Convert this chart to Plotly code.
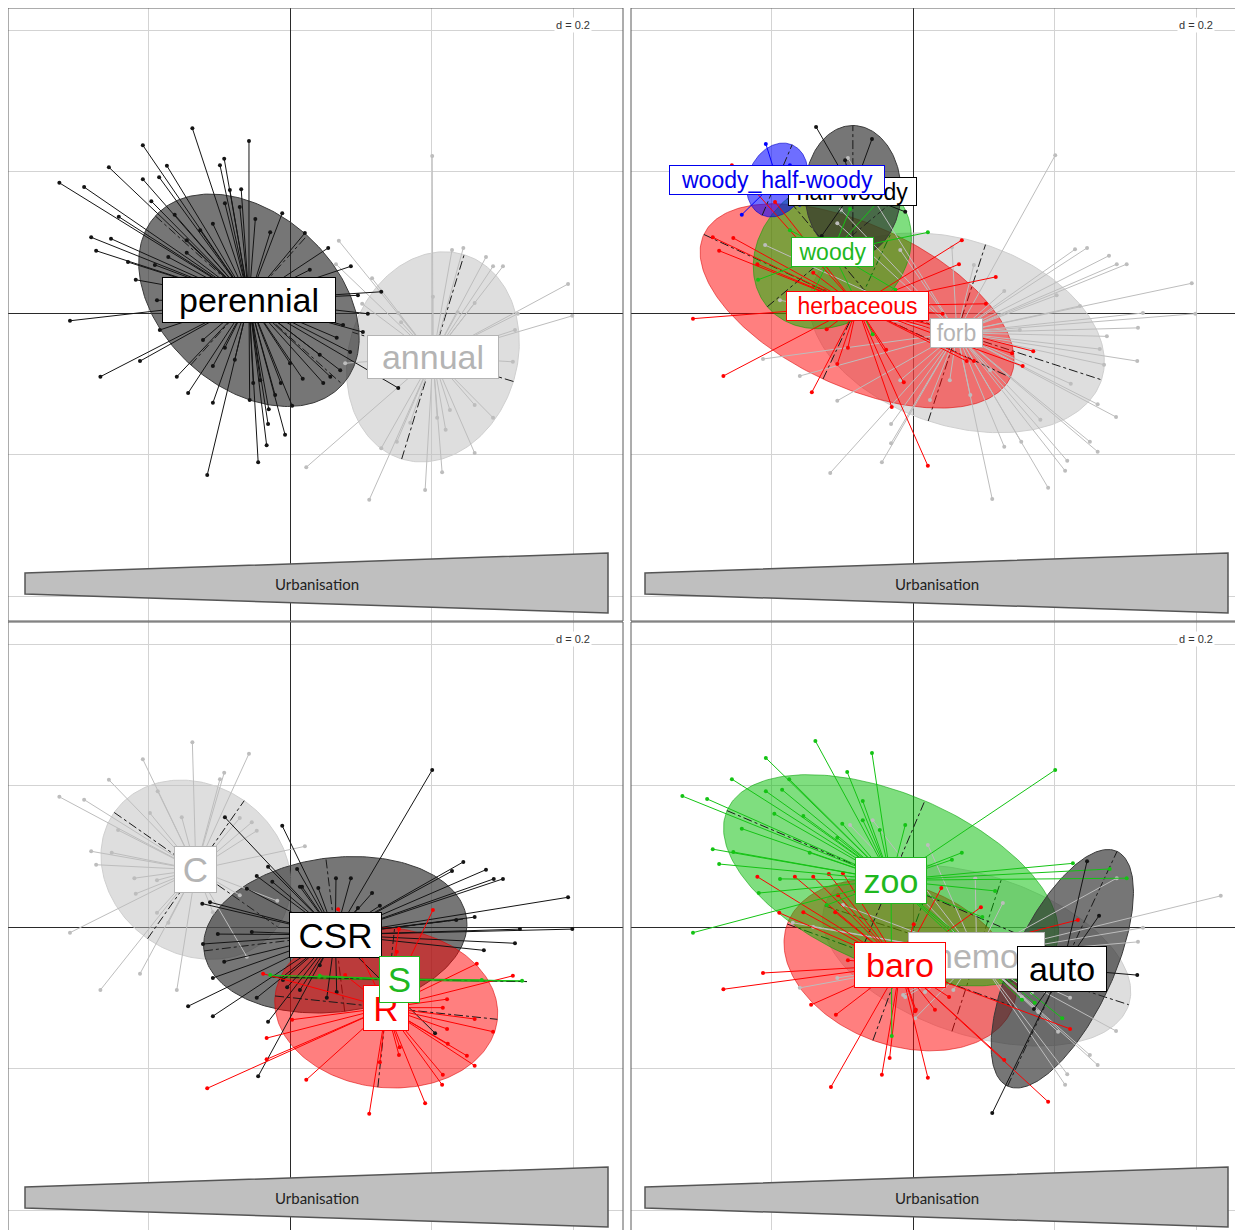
import numpy as np
import plotly.graph_objects as go

# ============================ DATA ============================
# ade4 s.class style coordinates (grid spacing d = 0.2)

# ---- Panel 1 : life span ----
p1_classes = ["annual", "perennial"]
p1_center_x = [0.202, -0.058]
p1_center_y = [-0.062, 0.018]
p1_ell_a = [0.151, 0.178]
p1_ell_b = [0.119, 0.123]
p1_ell_angle = [73, -42]

annual_pts = [(0.201, 0.222), (0.069, 0.102), (0.065, 0.069), (0.116, 0.049), (0.245, 0.092),
              (0.277, 0.079), (0.287, 0.066), (0.301, 0.066), (0.393, 0.041), (0.399, -0.004),
              (0.318, -0.024), (0.315, -0.069), (0.261, -0.130), (0.287, -0.148), (0.261, -0.198),
              (0.215, -0.225), (0.191, -0.250), (0.112, -0.264), (0.023, -0.218), (0.129, -0.191),
              (0.151, -0.182), (0.220, -0.165), (0.208, -0.148), (0.102, 0.013), (0.153, 0.000),
              (0.157, -0.013), (0.202, 0.023), (0.229, 0.089), (0.261, 0.014), (0.322, -0.001),
              (0.078, -0.071), (0.170, -0.155), (0.237, 0.001), (0.226, -0.137)]

perennial_pts = [(-0.138, 0.261), (-0.058, 0.243), (-0.208, 0.237), (-0.256, 0.206), (-0.174, 0.208),
                 (-0.099, 0.209), (-0.093, 0.218), (-0.326, 0.184), (-0.291, 0.178), (-0.208, 0.189),
                 (-0.185, 0.192), (-0.069, 0.175), (-0.196, 0.158), (-0.242, 0.136), (-0.011, 0.141),
                 (0.021, 0.113), (-0.281, 0.107), (-0.253, 0.105), (-0.274, 0.088), (-0.146, 0.103),
                 (-0.109, 0.126), (-0.218, 0.047), (-0.311, -0.011), (-0.212, -0.068), (-0.268, -0.090),
                 (-0.160, -0.090), (-0.144, -0.113), (-0.109, -0.127), (-0.117, -0.229), (-0.045, -0.211),
                 (-0.033, -0.187), (-0.031, -0.157), (-0.030, -0.136), (0.003, -0.131), (-0.092, -0.049),
                 (-0.109, -0.075), (-0.123, -0.038), (-0.052, -0.099), (-0.013, -0.099), (0.018, -0.093),
                 (0.000, -0.071), (-0.146, 0.085), (-0.188, 0.018), (-0.049, 0.133), (-0.071, 0.150),
                 (-0.172, 0.079), (-0.092, 0.155), (0.054, 0.092), (0.086, 0.066), (0.129, 0.030),
                 (0.096, 0.025), (0.110, -0.001), (0.103, -0.027), (0.153, -0.106), (0.071, -0.081),
                 (0.057, -0.090), (0.047, -0.099), (0.066, -0.035), (0.075, -0.017), (0.042, -0.059),
                 (0.085, -0.055), (-0.021, -0.116), (-0.042, -0.095), (-0.078, -0.066), (-0.127, 0.117),
                 (-0.085, 0.174), (-0.163, 0.139), (-0.028, 0.114), (-0.229, 0.072), (-0.191, 0.068),
                 (-0.184, -0.024), (-0.057, -0.123), (-0.007, -0.172), (0.028, 0.061), (0.057, 0.018)]

# ---- Panel 2 : growth form ----
p2_classes = ["forb", "herbaceous", "woody", "half-woody", "woody_half-woody"]
p2_center_x = [0.062, -0.079, -0.114, -0.085, -0.192]
p2_center_y = [-0.028, 0.010, 0.086, 0.172, 0.188]
p2_ell_a = [0.215, 0.239, 0.120, 0.093, 0.054]
p2_ell_b = [0.131, 0.114, 0.099, 0.068, 0.041]
p2_ell_angle = [-18, -25, 40, 90, 67]

forb_pts = [(0.201, 0.223), (0.229, 0.090), (0.246, 0.092), (0.277, 0.081), (0.288, 0.069),
            (0.302, 0.069), (0.394, 0.042), (0.399, -0.001), (0.325, 0.000), (0.318, -0.021),
            (0.274, -0.033), (0.264, -0.051), (0.317, -0.068), (0.270, -0.073), (0.287, -0.147),
            (0.261, -0.129), (0.261, -0.196), (0.250, -0.182), (0.218, -0.209), (0.215, -0.223),
            (0.191, -0.247), (0.153, -0.182), (0.129, -0.189), (0.112, -0.263), (0.223, -0.100),
            (0.236, 0.010), (0.203, 0.025), (0.129, 0.031), (0.086, 0.068), (0.055, 0.093),
            (-0.212, -0.065), (-0.160, -0.089), (-0.107, -0.124), (-0.117, -0.226), (-0.044, -0.211),
            (-0.031, -0.184), (-0.031, -0.157), (-0.209, 0.096), (-0.188, 0.018), (-0.102, 0.146),
            (-0.092, 0.219), (-0.107, 0.127), (0.024, -0.123), (0.081, -0.116), (0.180, -0.151),
            (0.109, -0.081), (-0.018, -0.095), (0.151, -0.024), (0.052, -0.095), (-0.047, 0.018),
            (-0.018, 0.089)]

herbaceous_pts = [(-0.256, 0.209), (-0.283, 0.107), (-0.254, 0.106), (-0.274, 0.088), (-0.220, 0.069),
                  (-0.311, -0.008), (-0.268, -0.089), (-0.143, -0.112), (-0.107, -0.072), (-0.092, -0.049),
                  (-0.122, -0.023), (-0.141, 0.057), (-0.195, 0.157), (-0.038, -0.052), (-0.013, -0.098),
                  (-0.030, -0.133), (0.021, -0.216), (0.069, 0.103), (0.065, 0.069), (0.117, 0.051),
                  (0.103, 0.013), (0.170, -0.054), (0.155, -0.075), (0.076, -0.068), (0.086, -0.068),
                  (0.140, -0.057), (0.042, -0.001)]

woody_pts = [(0.021, 0.114), (-0.219, 0.047), (-0.057, -0.030), (-0.089, 0.147), (-0.174, 0.117),
             (-0.025, 0.033), (-0.146, 0.018), (-0.047, 0.160)]

halfwoody_pts = [(-0.137, 0.263), (-0.058, 0.246), (-0.011, 0.143), (-0.129, 0.109), (-0.096, 0.216)]

woody_halfwoody_pts = [(-0.208, 0.239), (-0.242, 0.139), (-0.174, 0.209), (-0.160, 0.153)]

# ---- Panel 3 : CSR strategy ----
p3_classes = ["C", "CSR", "R", "S"]
p3_center_x = [-0.133, 0.064, 0.136, 0.155]
p3_center_y = [0.081, -0.011, -0.114, -0.074]
p3_ell_a = [0.141, 0.187, 0.158, 0.180]
p3_ell_b = [0.119, 0.109, 0.113, 0.0015]
p3_ell_angle = [-35, 7, -6, -1]

c_pts = [(-0.138, 0.261), (-0.208, 0.237), (-0.058, 0.245), (-0.093, 0.218), (-0.099, 0.209),
         (-0.256, 0.208), (-0.326, 0.184), (-0.291, 0.180), (-0.281, 0.107), (-0.274, 0.088),
         (-0.311, -0.008), (-0.268, -0.089), (-0.212, -0.066), (-0.160, -0.089), (0.021, 0.114),
         (-0.047, 0.136), (-0.054, 0.148), (-0.071, 0.154), (-0.153, 0.155), (-0.187, 0.192),
         (-0.243, 0.137), (-0.220, 0.069), (-0.218, 0.047), (-0.188, 0.066), (-0.188, 0.020),
         (-0.172, 0.006), (-0.018, 0.037), (-0.061, -0.042), (-0.109, 0.021), (-0.071, 0.045),
         (-0.198, 0.161), (-0.252, 0.105)]

csr_pts = [(-0.092, 0.155), (-0.011, 0.143), (-0.031, 0.085), (-0.047, 0.072), (-0.061, 0.054),
           (-0.025, 0.064), (-0.124, 0.033), (-0.113, 0.035), (-0.102, -0.010), (-0.123, -0.024),
           (-0.093, -0.049), (-0.109, -0.072), (-0.144, -0.112), (-0.109, -0.126), (-0.047, -0.100),
           (-0.031, -0.134), (-0.054, -0.007), (0.010, 0.082), (0.014, 0.057), (0.201, 0.222),
           (0.245, 0.092), (0.229, 0.079), (0.277, 0.081), (0.288, 0.068), (0.301, 0.068),
           (0.393, 0.042), (0.399, -0.003), (0.325, -0.003), (0.318, -0.023), (0.274, -0.033),
           (0.261, 0.014), (0.235, 0.010), (0.127, 0.030), (0.116, 0.048), (0.096, 0.027),
           (0.086, 0.069), (0.065, 0.069), (0.040, 0.055), (0.017, 0.057), (0.205, -0.150),
           (-0.045, -0.211), (-0.004, -0.085), (0.014, -0.089), (0.052, -0.100), (0.066, -0.092),
           (-0.010, -0.075), (0.042, -0.054)]

r_pts = [(0.202, 0.024), (0.154, -0.003), (0.151, -0.035), (0.264, -0.052), (0.315, -0.069),
         (0.222, -0.102), (0.216, -0.114), (0.261, -0.130), (0.222, -0.144), (0.287, -0.148),
         (0.223, -0.165), (0.250, -0.182), (0.261, -0.196), (0.216, -0.209), (0.215, -0.223),
         (0.154, -0.181), (0.155, -0.170), (0.127, -0.191), (0.023, -0.216), (0.068, 0.025),
         (-0.117, -0.228), (-0.033, -0.157), (-0.033, -0.187), (0.003, -0.131), (0.112, -0.264),
         (0.191, -0.249), (-0.038, -0.066), (0.078, -0.068)]

s_pts = [(-0.028, -0.068), (0.042, -0.069), (0.271, -0.075), (0.328, -0.076)]

# ---- Panel 4 : dispersal mode ----
p4_classes = ["hemo", "baro", "zoo", "auto"]
p4_center_x = [0.090, -0.018, -0.031, 0.211]
p4_center_y = [-0.040, -0.054, 0.066, -0.059]
p4_ell_a = [0.226, 0.170, 0.252, 0.183]
p4_ell_b = [0.113, 0.113, 0.122, 0.071]
p4_ell_angle = [-18, -20, -23, 65]

hemo_pts = [(0.288, 0.069), (0.435, 0.044), (0.325, -0.001), (0.318, -0.021), (0.287, -0.147),
            (0.261, -0.195), (0.250, -0.181), (0.218, -0.208), (0.215, -0.223), (0.222, -0.100),
            (0.205, -0.148), (0.177, -0.120), (0.154, -0.099), (0.168, -0.093), (0.021, 0.116),
            (0.088, 0.069), (0.127, 0.034), (0.003, -0.129), (-0.011, -0.099), (0.017, -0.092),
            (0.057, -0.089), (-0.160, -0.086), (-0.107, -0.072), (-0.170, 0.006), (-0.141, 0.000),
            (-0.014, -0.096), (-0.057, 0.151), (-0.089, 0.144), (-0.099, 0.031)]

baro_pts = [(-0.220, 0.071), (-0.167, 0.071), (-0.141, 0.071), (-0.119, 0.075), (-0.099, 0.076),
            (-0.106, 0.045), (-0.189, 0.020), (-0.155, 0.021), (-0.110, 0.021), (-0.212, -0.065),
            (-0.268, -0.088), (-0.144, -0.110), (-0.109, -0.124), (-0.116, -0.226), (-0.044, -0.209),
            (-0.033, -0.185), (-0.092, -0.047), (0.021, -0.213), (0.004, -0.117), (0.040, 0.055),
            (0.096, 0.028), (0.001, 0.004), (0.233, 0.010), (0.191, -0.247), (0.129, -0.188),
            (0.222, -0.144), (0.003, -0.119), (0.051, -0.099), (0.031, -0.117)]

zoo_pts = [(-0.138, 0.263), (-0.058, 0.246), (-0.208, 0.239), (-0.256, 0.209), (-0.093, 0.219),
           (-0.326, 0.185), (-0.291, 0.181), (-0.208, 0.192), (-0.185, 0.194), (-0.175, 0.209),
           (-0.242, 0.139), (-0.196, 0.160), (-0.155, 0.157), (-0.283, 0.110), (-0.254, 0.106),
           (-0.274, 0.089), (-0.218, 0.048), (-0.311, -0.008), (-0.107, 0.126), (-0.100, 0.146),
           (-0.071, 0.151), (-0.071, 0.178), (-0.047, 0.137), (-0.011, 0.144), (-0.146, 0.105),
           (-0.188, 0.068), (-0.122, 0.031), (-0.030, -0.154), (0.069, 0.105), (0.055, 0.095),
           (0.278, 0.082), (0.302, 0.069), (0.116, 0.051), (0.172, -0.107), (0.211, -0.129),
           (0.154, -0.103), (0.201, 0.222), (0.226, 0.090), (0.098, 0.014)]

auto_pts = [(0.246, 0.093), (0.263, 0.016), (0.317, -0.068), (0.171, -0.116), (0.112, -0.263),
            (0.165, -0.047)]

# ============================ STYLE ============================
STY = {
    "black": dict(line="#141414", fill="rgba(40,40,40,0.64)", edge="#3a3a3a", text="#000000"),
    "gray": dict(line="#bdbdbd", fill="rgba(190,190,190,0.5)", edge="#cfcfcf", text="#b4b4b4"),
    "red": dict(line="#ff0000", fill="rgba(255,0,0,0.5)", edge="rgba(220,0,0,0.55)", text="#ff0000"),
    "green": dict(line="#14c314", fill="rgba(0,190,0,0.5)", edge="rgba(0,160,0,0.55)", text="#1fb81f"),
    "blue": dict(line="#0000ff", fill="rgba(0,0,255,0.57)", edge="rgba(0,0,200,0.6)", text="#0000ee"),
}

OFF = 8                      # page body margin added by the browser
W, H = 1243 - OFF, 1230 - OFF
PX_PER_UNIT = 707.5
PANEL_W, PANEL_H = 615, 613
# (left, top, origin_x, origin_y) in figure pixels
PANELS = [(8 - OFF, 8 - OFF, 290 - OFF, 313 - OFF),
          (631 - OFF, 8 - OFF, 913 - OFF, 313 - OFF),
          (8 - OFF, 622 - OFF, 290 - OFF, 927 - OFF),
          (631 - OFF, 622 - OFF, 913 - OFF, 927 - OFF)]

panel_defs = [
    dict(classes=p1_classes, cx=p1_center_x, cy=p1_center_y, a=p1_ell_a, b=p1_ell_b, ang=p1_ell_angle,
         pts=[annual_pts, perennial_pts], colors=["gray", "black"],
         draw=[0, 1], label_order=[0, 1], fsize=34,
         boxes=[(130, 42), (172, 44)]),
    dict(classes=p2_classes, cx=p2_center_x, cy=p2_center_y, a=p2_ell_a, b=p2_ell_b, ang=p2_ell_angle,
         pts=[forb_pts, herbaceous_pts, woody_pts, halfwoody_pts, woody_halfwoody_pts],
         colors=["gray", "red", "green", "black", "blue"],
         draw=[0, 1, 2, 3, 4], label_order=[0, 1, 2, 3, 4], fsize=23,
         boxes=[(51, 28), (141, 28), (81, 28), (127, 27), (214, 28)]),
    dict(classes=p3_classes, cx=p3_center_x, cy=p3_center_y, a=p3_ell_a, b=p3_ell_b, ang=p3_ell_angle,
         pts=[c_pts, csr_pts, r_pts, s_pts], colors=["gray", "black", "red", "green"],
         draw=[0, 1, 2, 3], label_order=[0, 1, 2, 3], fsize=35,
         boxes=[(41, 45), (91, 44), (44, 44), (39, 45)]),
    dict(classes=p4_classes, cx=p4_center_x, cy=p4_center_y, a=p4_ell_a, b=p4_ell_b, ang=p4_ell_angle,
         pts=[hemo_pts, baro_pts, zoo_pts, auto_pts], colors=["gray", "red", "green", "black"],
         draw=[0, 1, 2, 3], label_order=[0, 2, 1, 3], fsize=34,
         boxes=[(135, 45), (90, 44), (70, 45), (88, 44)]),
]

fig = go.Figure()
annotations = []
shapes = []
t = np.linspace(0, 2 * np.pi, 240)

for k, (pdef, (L, T, ox, oy)) in enumerate(zip(panel_defs, PANELS), start=1):
    R = min(L + PANEL_W, W)
    B = min(T + PANEL_H, H)
    xname = "x" if k == 1 else f"x{k}"
    yname = "y" if k == 1 else f"y{k}"
    axis_common = dict(showgrid=True, gridcolor="#d3d3d3", gridwidth=1, zeroline=True,
                       zerolinecolor="#2a2a2a", zerolinewidth=1, showticklabels=False, ticks="",
                       tick0=0, dtick=0.2, showline=False, fixedrange=True)
    fig.update_layout(**{
        ("xaxis" if k == 1 else f"xaxis{k}"): dict(
            domain=[L / W, R / W], range=[(L - ox) / PX_PER_UNIT, (R - ox) / PX_PER_UNIT],
            anchor=yname, **axis_common),
        ("yaxis" if k == 1 else f"yaxis{k}"): dict(
            domain=[1 - B / H, 1 - T / H], range=[(oy - B) / PX_PER_UNIT, (oy - T) / PX_PER_UNIT],
            anchor=xname, **axis_common),
    })

    # ellipses + their axes
    for i in pdef["draw"]:
        st = STY[pdef["colors"][i]]
        cx, cy, a, b = pdef["cx"][i], pdef["cy"][i], pdef["a"][i], pdef["b"][i]
        th = np.deg2rad(pdef["ang"][i])
        ex, ey = a * np.cos(t), b * np.sin(t)
        X = cx + ex * np.cos(th) - ey * np.sin(th)
        Y = cy + ex * np.sin(th) + ey * np.cos(th)
        fig.add_trace(go.Scatter(x=X, y=Y, mode="lines", fill="toself", fillcolor=st["fill"],
                                 line=dict(color=st["edge"], width=1), xaxis=xname, yaxis=yname,
                                 hoverinfo="skip", showlegend=False))
        ax_x = [cx - a * np.cos(th), cx + a * np.cos(th), None, cx + b * np.sin(th), cx - b * np.sin(th)]
        ax_y = [cy - a * np.sin(th), cy + a * np.sin(th), None, cy - b * np.cos(th), cy + b * np.cos(th)]
        fig.add_trace(go.Scatter(x=ax_x, y=ax_y, mode="lines",
                                 line=dict(color="#1a1a1a", width=1, dash="dashdot"),
                                 xaxis=xname, yaxis=yname, hoverinfo="skip", showlegend=False))

    # stars
    for i in pdef["draw"]:
        st = STY[pdef["colors"][i]]
        cx, cy = pdef["cx"][i], pdef["cy"][i]
        sx, sy = [], []
        for (px, py) in pdef["pts"][i]:
            sx += [cx, px, None]
            sy += [cy, py, None]
        fig.add_trace(go.Scatter(x=sx, y=sy, mode="lines", line=dict(color=st["line"], width=1),
                                 xaxis=xname, yaxis=yname, hoverinfo="skip", showlegend=False))
        fig.add_trace(go.Scatter(x=[p[0] for p in pdef["pts"][i]], y=[p[1] for p in pdef["pts"][i]],
                                 mode="markers", marker=dict(color=st["line"], size=4),
                                 xaxis=xname, yaxis=yname, hoverinfo="skip", showlegend=False))

    # labels
    for i in pdef["label_order"]:
        st = STY[pdef["colors"][i]]
        bw, bh = pdef["boxes"][i]
        annotations.append(dict(x=pdef["cx"][i], y=pdef["cy"][i], xref=xname, yref=yname,
                                text=pdef["classes"][i], showarrow=False,
                                xanchor="center", yanchor="middle",
                                font=dict(family="Liberation Sans, Arial", size=pdef["fsize"], color=st["text"]),
                                bgcolor="white", bordercolor=st["text"], borderwidth=1, borderpad=0,
                                width=bw, height=bh, align="center", valign="middle"))

    # d = 0.2 tag
    annotations.append(dict(x=0.4, y=(oy - T - 17) / PX_PER_UNIT, xref=xname, yref=yname, text="d = 0.2",
                            showarrow=False, xanchor="center", yanchor="middle",
                            font=dict(family="Liberation Sans, Arial", size=11, color="#333"),
                            bgcolor="white", borderpad=1))

    # panel frame
    shapes.append(dict(type="rect", xref="paper", yref="paper", x0=L / W, x1=(L + PANEL_W) / W,
                       y0=1 - (T + PANEL_H) / H, y1=1 - T / H, line=dict(color="#5a5a5a", width=1),
                       fillcolor="rgba(0,0,0,0)", layer="above"))

    # Urbanisation wedge (decoration)
    if k in (2, 4):
        xl, xr = L + 14, L + 597
    else:
        xl, xr = L + 17, L + 600
    pts = [(xl, T + 565), (xr, T + 545), (xr, T + 605), (xl, T + 586)]
    path = "M " + " L ".join(f"{px / W:.5f},{1 - py / H:.5f}" for px, py in pts) + " Z"
    shapes.append(dict(type="path", xref="paper", yref="paper", path=path, fillcolor="#bfbfbf",
                       line=dict(color="#555555", width=1.5), layer="above"))
    annotations.append(dict(x=((xl + xr) / 2) / W, y=1 - (T + 576) / H, xref="paper", yref="paper",
                            text="Urbanisation", showarrow=False, xanchor="center", yanchor="middle",
                            font=dict(family="Lato, Open Sans, sans-serif", size=15, color="#222")))

fig.update_layout(width=W, height=H, margin=dict(l=0, r=0, t=0, b=0), paper_bgcolor="white",
                  plot_bgcolor="white", showlegend=False, annotations=annotations, shapes=shapes)
fig.write_html("out.html")
